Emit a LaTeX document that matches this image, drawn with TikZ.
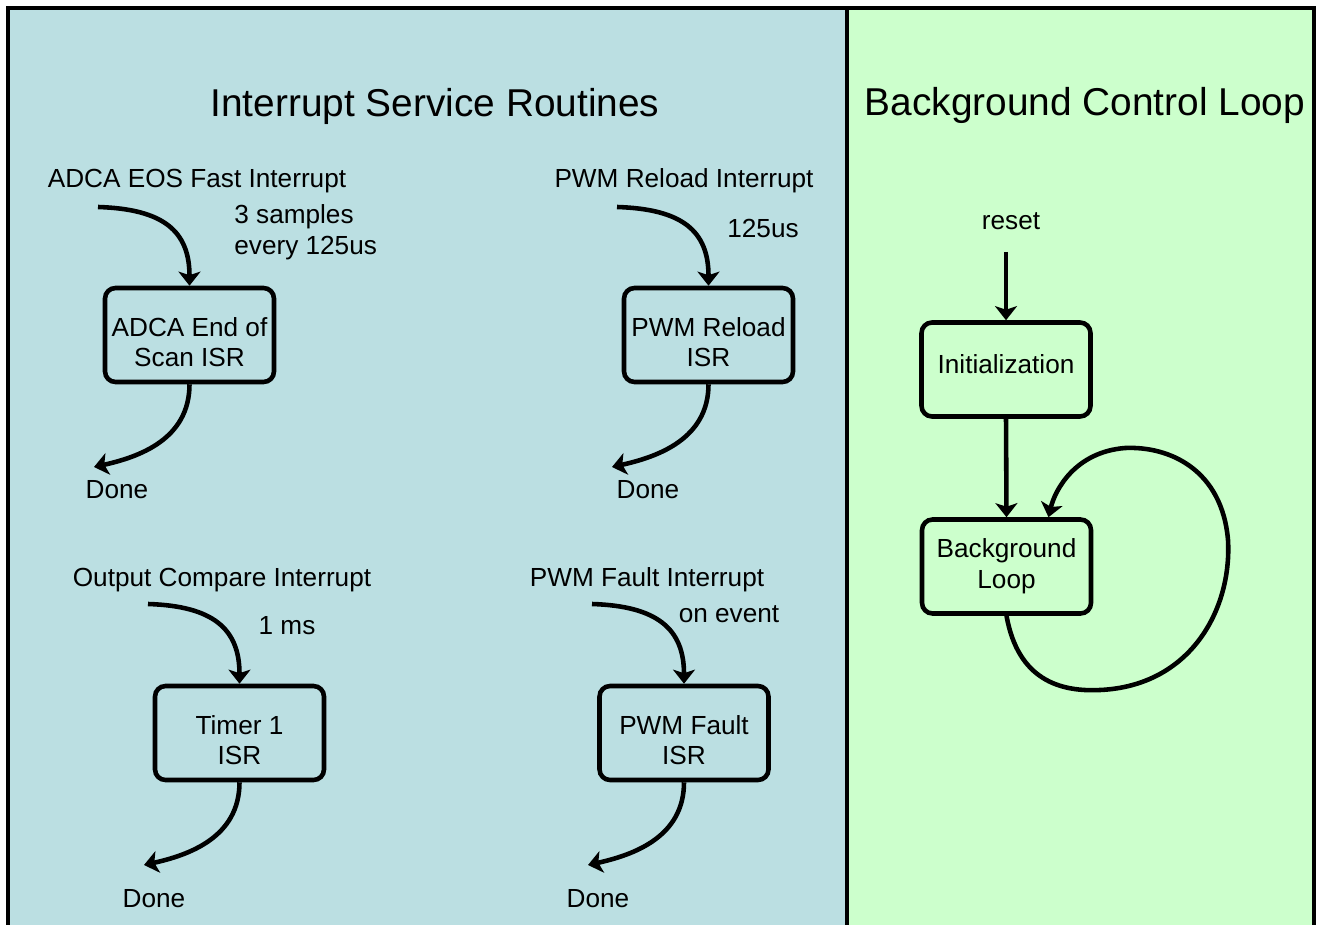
\documentclass[tikz,border=0pt]{standalone}
\usepackage{fontspec}
\setmainfont{Liberation Sans}
\usetikzlibrary{arrows.meta,calc}
\definecolor{isrblue}{HTML}{BBDFE2}
\definecolor{bggreen}{HTML}{CCFFCC}
\newcommand{\boxlift}{\rule{0pt}{18.9pt}}
\begin{document}
\begin{tikzpicture}[x=0.02cm,y=-0.02cm,
    isr/.style={draw=black, line width=2.6pt, rounded corners=6pt, align=center,
      minimum width=3.38cm, minimum height=1.88cm, inner sep=2pt,
      font=\fontsize{14.9}{17.6}\selectfont},
    hightext/.style={text depth=6.5pt},
    lbl/.style={inner sep=0pt, font=\fontsize{14.9}{17.6}\selectfont},
    ttl/.style={inner sep=0pt, font=\fontsize{22.1}{26}\selectfont},
    flow/.style={line width=2.6pt, -{Stealth[length=8pt,width=12.5pt,inset=2pt]}}]
   \useasboundingbox (0,0) rectangle (1317,925);
   \clip (0,0) rectangle (1317,925);
   % panels
   \fill[isrblue] (8,8) rectangle (847,940);
   \fill[bggreen] (847,8) rectangle (1314,940);
   \draw[black, line width=2.4pt] (8,940) -- (8,8) -- (1314,8) -- (1314,940);
   \draw[black, line width=2.4pt] (847,8) -- (847,940);
   \node[ttl, anchor=base] (isrtitle) at (435,117) {Interrupt Service Routines};
   \node[ttl, anchor=base] (bgtitle) at (1085,116) {Background Control Loop};

   % ADCA end of scan
   \node[lbl, anchor=base] (adcatxt) at (197,188) {ADCA EOS Fast Interrupt};
   \node[lbl, anchor=west, align=left] (adcarate) at (234,232) {3 samples\\every 125us};
   \node[isr] (adca) at (189.5,335) {\boxlift ADCA End of\\Scan ISR};
   \node[lbl, anchor=base] (adcadone) at (117,498) {Done};
   \coordinate (adcain) at (98,207);
   \coordinate (adcaout) at (94,467);
   \draw[flow] (adcain) .. controls +(65,2) and +(0,-55) .. (adca.north);
   \draw[flow] (adca.south) .. controls +(0,55) and +(45,-10) .. (adcaout);

   % PWM reload
   \node[lbl, anchor=base] (pwmrtxt) at (684,188) {PWM Reload Interrupt};
   \node[lbl, anchor=base] (pwmrrate) at (763,238) {125us};
   \node[isr] (pwmr) at (708.5,335) {\boxlift PWM Reload\\ISR};
   \node[lbl, anchor=base] (pwmrdone) at (648,498) {Done};
   \coordinate (pwmrin) at (617,207);
   \coordinate (pwmrout) at (612,467);
   \draw[flow] (pwmrin) .. controls +(65,2) and +(0,-55) .. (pwmr.north);
   \draw[flow] (pwmr.south) .. controls +(0,55) and +(45,-10) .. (pwmrout);

   % timer 1
   \node[lbl, anchor=base] (tmrtxt) at (222,586) {Output Compare Interrupt};
   \node[lbl, anchor=base] (tmrrate) at (287,634) {1 ms};
   \node[isr] (tmr) at (239.5,733) {\boxlift Timer 1\\ISR};
   \node[lbl, anchor=base] (tmrdone) at (154,907) {Done};
   \coordinate (tmrin) at (148,604);
   \coordinate (tmrout) at (144,865);
   \draw[flow] (tmrin) .. controls +(65,2) and +(0,-55) .. (tmr.north);
   \draw[flow] (tmr.south) .. controls +(0,55) and +(45,-10) .. (tmrout);

   % PWM fault
   \node[lbl, anchor=base] (flttxt) at (647,586) {PWM Fault Interrupt};
   \node[lbl, anchor=base] (fltrate) at (729,622) {on event};
   \node[isr] (flt) at (684,733) {\boxlift PWM Fault\\ISR};
   \node[lbl, anchor=base] (fltdone) at (598,907) {Done};
   \coordinate (fltin) at (592,604);
   \coordinate (fltout) at (588,865);
   \draw[flow] (fltin) .. controls +(65,2) and +(0,-55) .. (flt.north);
   \draw[flow] (flt.south) .. controls +(0,55) and +(45,-10) .. (fltout);

   % background loop
   \node[lbl, anchor=base] (reset) at (1011,230) {reset};
   \coordinate (resetin) at (1006,252);
   \node[isr, hightext] (init) at (1006,369.5) {Initialization};
   \node[isr] (bgloop) at (1006.5,566.5) {Background\\Loop};
   \draw[flow] (resetin) -- (init.north);
   \draw[flow] (init.south) -- (bgloop.north);
   \draw[flow] (bgloop.south) .. controls (1018,680) and (1060,692) .. (1100,690)
      .. controls (1190,686) and (1232,610) .. (1228,540)
      .. controls (1222,470) and (1170,446) .. (1125,448)
      .. controls (1075,452) and (1055,490) .. ($(bgloop.north)+(42,0)$);
\end{tikzpicture}
\end{document}
